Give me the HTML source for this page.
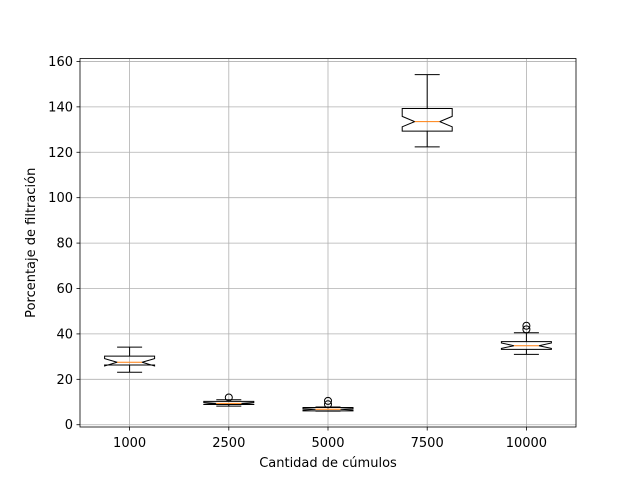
<!DOCTYPE html>
<html><head><meta charset="utf-8"><style>
body{margin:0;background:#fff}
svg text{font-family:"DejaVu Sans","Liberation Sans",sans-serif;font-size:13px;fill:#000}
</style></head><body>
<svg id="chart" width="640" height="480">
<g id="grid"></g><g id="boxes"></g><g id="axes"></g>
</svg>
<script>
const categories=["1000","2500","5000","7500","10000"];
const whiskLo=[23.1,8.2,6.0,122.4,31.0];
const q1=[26.3,8.9,6.1,129.3,33.2];
const medians=[27.5,9.4,6.8,133.5,34.8];
const q3=[30.2,10.3,7.6,139.3,36.6];
const whiskHi=[34.2,11.0,7.8,154.2,40.5];
const notchLo=[25.9,9.0,6.5,131.2,33.6];
const notchHi=[29.1,9.8,7.1,135.8,36.0];
const outliers=[[],[12.0],[9.0,10.5],[],[42.0,43.6]];
const yTicks=[0,20,40,60,80,100,120,140,160];

const L=80,R=576,T=58.5,B=427;
const yMin=-1,yMax=161.3;
const y=v=>B-(v-yMin)/(yMax-yMin)*(B-T);
const x=i=>L+(i+0.5)/categories.length*(R-L);
const NS="http://www.w3.org/2000/svg";
function mk(p,tag,a){const e=document.createElementNS(NS,tag);for(const k in a)e.setAttribute(k,a[k]);p.appendChild(e);return e;}
const grid=document.getElementById('grid'),boxes=document.getElementById('boxes'),axes=document.getElementById('axes');
yTicks.forEach(t=>{
 const g=mk(grid,'line',{x1:L,x2:R,y1:y(t),y2:y(t),stroke:'#b0b0b0','stroke-width':0.8});
 
 
 mk(axes,'line',{x1:L-3.5,x2:L,y1:y(t),y2:y(t),stroke:'#000','stroke-width':0.8});
 const tx=mk(axes,'text',{x:L-7,y:y(t)+4.5,'text-anchor':'end'});tx.textContent=t;
 
 
});
categories.forEach((c,i)=>{
 const cx=x(i);
 const g=mk(grid,'line',{x1:cx,x2:cx,y1:T,y2:B,stroke:'#b0b0b0','stroke-width':0.8});
 
 
 mk(axes,'line',{x1:cx,x2:cx,y1:B,y2:B+3.5,stroke:'#000','stroke-width':0.8});
 const tx=mk(axes,'text',{x:cx,y:B+20,'text-anchor':'middle'});tx.textContent=c;
 
 
 const hw=25,nw=12.5,cw=12.5;
 const grp=mk(boxes,'g',{});
 
 
 const st={stroke:'#000','stroke-width':1,fill:'none'};
 mk(grp,'line',Object.assign({x1:cx,x2:cx,y1:y(q1[i]),y2:y(whiskLo[i])},st));
 mk(grp,'line',Object.assign({x1:cx,x2:cx,y1:y(q3[i]),y2:y(whiskHi[i])},st));
 mk(grp,'line',Object.assign({x1:cx-cw,x2:cx+cw,y1:y(whiskLo[i]),y2:y(whiskLo[i])},st));
 mk(grp,'line',Object.assign({x1:cx-cw,x2:cx+cw,y1:y(whiskHi[i]),y2:y(whiskHi[i])},st));
 const pts=[[cx-hw,y(q1[i])],[cx+hw,y(q1[i])],[cx+hw,y(notchLo[i])],[cx+nw,y(medians[i])],[cx+hw,y(notchHi[i])],[cx+hw,y(q3[i])],[cx-hw,y(q3[i])],[cx-hw,y(notchHi[i])],[cx-nw,y(medians[i])],[cx-hw,y(notchLo[i])]];
 mk(grp,'polygon',Object.assign({points:pts.map(p=>p.join(',')).join(' '),'stroke-linejoin':'miter'},st));
 mk(grp,'line',{x1:cx-nw,x2:cx+nw,y1:y(medians[i]),y2:y(medians[i]),stroke:'#ff7f0e','stroke-width':1});
 outliers[i].forEach(o=>mk(grp,'circle',Object.assign({cx:cx,cy:y(o),r:3.5},st)));
});
const fr=mk(axes,'rect',{x:L,y:T,width:R-L,height:B-T,fill:'none',stroke:'#000','stroke-width':0.8});


const xl=mk(axes,'text',{x:(L+R)/2,y:467,'text-anchor':'middle'});xl.textContent='Cantidad de cúmulos';


const yl=mk(axes,'text',{x:0,y:0,'text-anchor':'middle',transform:`translate(35,${(T+B)/2}) rotate(-90)`});yl.textContent='Porcentaje de filtración';


</script>
</body></html>
